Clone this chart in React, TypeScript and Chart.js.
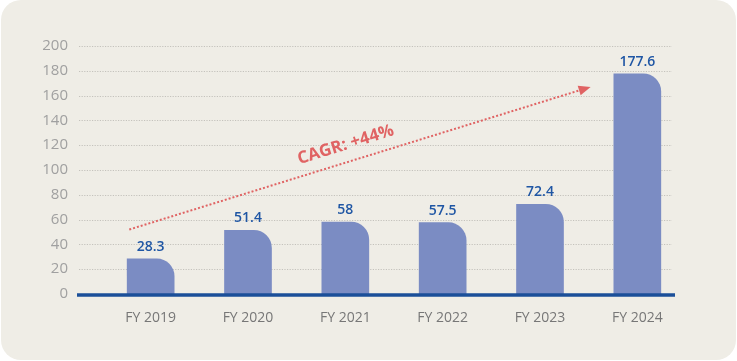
import React, { useEffect, useRef } from "react";
import { Chart, registerables } from "chart.js";

Chart.register(...registerables);

const categories = ["FY 2019", "FY 2020", "FY 2021", "FY 2022", "FY 2023", "FY 2024"];
const revenue = [28.3, 51.4, 58, 57.5, 72.4, 177.6];
const yTicks = [0, 20, 40, 60, 80, 100, 120, 140, 160, 180, 200];
const cagrLabel = "CAGR: +44%";
// arrow anchors in data units: [category index, value]
const cagrStart = [-0.22, 52];
const cagrEnd = [4.52, 167];

const FONT = "'Open Sans', 'Noto Sans', sans-serif";

const overlayPlugin = {
  id: "overlay",
  beforeDatasetsDraw(chart: any) {
    const { ctx, scales } = chart;
    const y = scales.y;
    ctx.save();
    ctx.strokeStyle = "#c4c2bc";
    ctx.lineWidth = 1;
    ctx.setLineDash([1.2, 1.4]);
    yTicks.forEach((v) => {
      if (v === 0) return;
      const py = Math.round(y.getPixelForValue(v)) + 0.5;
      ctx.beginPath();
      ctx.moveTo(79, py);
      ctx.lineTo(672, py);
      ctx.stroke();
    });
    ctx.restore();
  },
  afterDatasetsDraw(chart: any) {
    const { ctx, scales } = chart;
    const x = scales.x;
    const y = scales.y;
    const meta = chart.getDatasetMeta(0);
    ctx.save();
    // axis line
    const y0 = y.getPixelForValue(0) + 1;
    ctx.strokeStyle = "#1b4f99";
    ctx.lineWidth = 3.5;
    ctx.beginPath();
    ctx.moveTo(77, y0);
    ctx.lineTo(675, y0);
    ctx.stroke();

    // value labels
    ctx.fillStyle = "#1f56a4";
    ctx.font = `600 14px ${FONT}`;
    ctx.textAlign = "center";
    ctx.textBaseline = "bottom";
    meta.data.forEach((bar: any, i: number) => {
      ctx.fillText(String(revenue[i]), bar.x, bar.y - 5);
    });

    // CAGR arrow
    const idxToPx = (idx: number) => {
      const p0 = x.getPixelForValue(0);
      const p1 = x.getPixelForValue(1);
      return p0 + idx * (p1 - p0);
    };
    const sx = idxToPx(cagrStart[0]);
    const sy = y.getPixelForValue(cagrStart[1]);
    const ex = idxToPx(cagrEnd[0]);
    const ey = y.getPixelForValue(cagrEnd[1]);
    const ang = Math.atan2(ey - sy, ex - sx);
    const red = "#e06363";
    const headLen = 12;
    const lx = ex - Math.cos(ang) * (headLen - 2);
    const ly = ey - Math.sin(ang) * (headLen - 2);
    ctx.strokeStyle = red;
    ctx.lineWidth = 2;
    ctx.setLineDash([2, 2]);
    ctx.beginPath();
    ctx.moveTo(sx, sy);
    ctx.lineTo(lx, ly);
    ctx.stroke();
    ctx.setLineDash([]);
    ctx.fillStyle = red;
    ctx.beginPath();
    ctx.moveTo(ex, ey);
    ctx.lineTo(ex - Math.cos(ang) * headLen - Math.sin(ang) * 5, ey - Math.sin(ang) * headLen + Math.cos(ang) * 5);
    ctx.lineTo(ex - Math.cos(ang) * headLen + Math.sin(ang) * 5, ey - Math.sin(ang) * headLen - Math.cos(ang) * 5);
    ctx.closePath();
    ctx.fill();

    // CAGR text
    const t = 0.48;
    const mx = sx + (ex - sx) * t;
    const my = sy + (ey - sy) * t;
    const off = 17;
    const tx = mx + Math.sin(ang) * off;
    const ty = my - Math.cos(ang) * off;
    ctx.translate(tx, ty);
    ctx.rotate(ang);
    ctx.font = `bold 17px ${FONT}`;
    ctx.textAlign = "center";
    ctx.textBaseline = "middle";
    ctx.fillStyle = red;
    ctx.fillText(cagrLabel, 0, 0);
    ctx.restore();
  },
};

export default function App() {
  const ref = useRef<HTMLCanvasElement | null>(null);
  useEffect(() => {
    if (!ref.current) return;
    const chart = new Chart(ref.current, {
      type: "bar",
      data: {
        labels: categories,
        datasets: [
          {
            data: revenue,
            backgroundColor: "#7b8cc3",
            borderRadius: { topLeft: 0, topRight: 18, bottomLeft: 0, bottomRight: 0 },
            borderSkipped: false,
            barThickness: 47,
          },
        ],
      },
      options: {
        responsive: false,
        animation: false,
        layout: { padding: { top: 46, right: 51, left: 0, bottom: 0 } },
        plugins: { legend: { display: false }, tooltip: { enabled: false } },
        scales: {
          x: {
            grid: { display: false, drawTicks: false },
            border: { display: false },
            ticks: { color: "#777777", font: { family: FONT, size: 14 }, padding: 16 },
            afterFit: (s: any) => {
              s.height = 67;
            },
          },
          y: {
            min: 0,
            max: 200,
            grid: { display: false, drawTicks: false },
            border: { display: false },
            afterBuildTicks: (s: any) => {
              s.ticks = yTicks.map((v) => ({ value: v }));
            },
            ticks: { color: "#a0a0a0", font: { family: FONT, size: 15 }, padding: 34 },
            afterFit: (s: any) => {
              s.width = 102;
            },
          },
        },
      },
      plugins: [overlayPlugin],
    });
    return () => chart.destroy();
  }, []);

  return (
    <div style={{ position: "absolute", left: 0, top: 0, width: 737, height: 361, background: "#ffffff" }}>
      <div
        style={{
          position: "absolute",
          left: 1,
          top: 0,
          width: 735,
          height: 360,
          background: "#efede6",
          borderRadius: 20,
        }}
      />
      <canvas ref={ref} width={737} height={361} style={{ position: "absolute", left: 0, top: 0 }} />
    </div>
  );
}
